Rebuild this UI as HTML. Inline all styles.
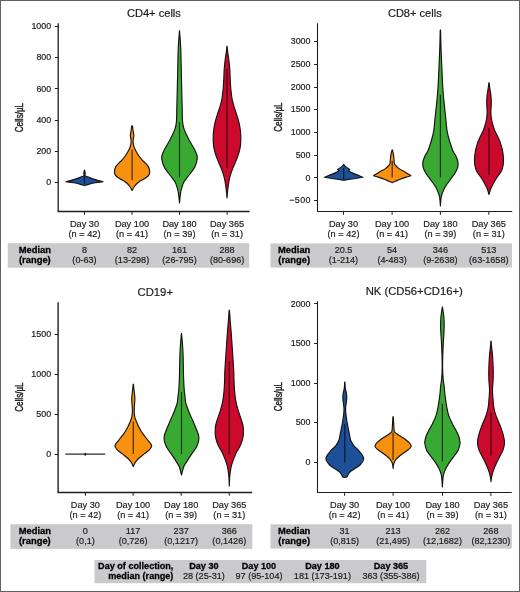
<!DOCTYPE html>
<html><head><meta charset="utf-8"><style>
html,body{margin:0;padding:0;background:#fff;}
body{width:520px;height:592px;overflow:hidden;}
svg{display:block;will-change:transform;}
text{font-family:"Liberation Sans", sans-serif;fill:#1c1a1a;stroke:#1c1a1a;stroke-width:0.18px;}
</style></head><body>
<svg width="520" height="592" viewBox="0 0 520 592">
<rect x="0" y="0" width="520" height="592" fill="#fff"/>
<path d="M58.2,23.2 V211.5 H249.6" fill="none" stroke="#1e1e1e" stroke-width="1.3"/>
<line x1="54.800000000000004" y1="182.5" x2="58.2" y2="182.5" stroke="#1e1e1e" stroke-width="1"/>
<text x="51.2" y="185.35" font-size="8.9" text-anchor="end" font-weight="normal" >0</text>
<line x1="54.800000000000004" y1="151.5" x2="58.2" y2="151.5" stroke="#1e1e1e" stroke-width="1"/>
<text x="51.2" y="154.13" font-size="8.9" text-anchor="end" font-weight="normal" >200</text>
<line x1="54.800000000000004" y1="120.5" x2="58.2" y2="120.5" stroke="#1e1e1e" stroke-width="1"/>
<text x="51.2" y="122.91" font-size="8.9" text-anchor="end" font-weight="normal" >400</text>
<line x1="54.800000000000004" y1="88.5" x2="58.2" y2="88.5" stroke="#1e1e1e" stroke-width="1"/>
<text x="51.2" y="91.69" font-size="8.9" text-anchor="end" font-weight="normal" >600</text>
<line x1="54.800000000000004" y1="57.5" x2="58.2" y2="57.5" stroke="#1e1e1e" stroke-width="1"/>
<text x="51.2" y="60.47" font-size="8.9" text-anchor="end" font-weight="normal" >800</text>
<line x1="54.800000000000004" y1="26.5" x2="58.2" y2="26.5" stroke="#1e1e1e" stroke-width="1"/>
<text x="51.2" y="29.25" font-size="8.9" text-anchor="end" font-weight="normal" >1000</text>
<line x1="84.5" y1="211.5" x2="84.5" y2="214.8" stroke="#1e1e1e" stroke-width="1"/>
<line x1="132.0" y1="211.5" x2="132.0" y2="214.8" stroke="#1e1e1e" stroke-width="1"/>
<line x1="179.5" y1="211.5" x2="179.5" y2="214.8" stroke="#1e1e1e" stroke-width="1"/>
<line x1="227.1" y1="211.5" x2="227.1" y2="214.8" stroke="#1e1e1e" stroke-width="1"/>
<text x="153.9" y="17.0" font-size="10.7" text-anchor="middle" font-weight="normal" textLength="54.0" lengthAdjust="spacingAndGlyphs">CD4+ cells</text>
<text transform="translate(22.6,117.6) rotate(-90) scale(0.80,1)" font-size="10.2" text-anchor="middle" style="stroke-width:0.4px" textLength="36.6" lengthAdjust="spacingAndGlyphs">Cells/µL</text>
<path d="M84.50,170.00 C84.55,170.22 84.66,170.77 84.78,171.30 C84.90,171.83 85.22,172.58 85.23,173.20 C85.25,173.82 84.86,174.55 84.88,175.00 C84.91,175.45 84.65,175.48 85.38,175.90 C86.12,176.32 87.63,176.88 89.28,177.50 C90.93,178.12 92.98,178.90 95.28,179.60 C97.58,180.30 101.78,181.35 103.08,181.70 C101.78,181.88 97.58,182.40 95.28,182.80 C92.98,183.20 91.08,183.63 89.28,184.10 C87.49,184.57 85.30,185.35 84.50,185.60 C83.70,185.35 81.51,184.57 79.72,184.10 C77.92,183.63 76.02,183.20 73.72,182.80 C71.42,182.40 67.22,181.88 65.92,181.70 C67.22,181.35 71.42,180.30 73.72,179.60 C76.02,178.90 78.07,178.12 79.72,177.50 C81.37,176.88 82.88,176.32 83.62,175.90 C84.35,175.48 84.09,175.45 84.12,175.00 C84.14,174.55 83.75,173.82 83.77,173.20 C83.78,172.58 84.10,171.83 84.22,171.30 C84.34,170.77 84.45,170.22 84.50,170.00Z" fill="#1c519a" stroke="#161210" stroke-width="1.15" stroke-linejoin="round"/><line x1="84.5" y1="177" x2="84.5" y2="184" stroke="#000" stroke-opacity="0.72" stroke-width="1.2"/>
<path d="M132.10,126.00 C132.16,126.05 132.32,125.55 132.48,126.30 C132.65,127.05 132.86,129.00 133.08,130.50 C133.31,132.00 133.78,133.95 133.83,135.30 C133.88,136.65 133.51,137.50 133.38,138.60 C133.26,139.70 133.03,140.72 133.08,141.90 C133.13,143.08 133.38,144.52 133.68,145.70 C133.98,146.88 134.42,147.95 134.88,149.00 C135.35,150.05 135.87,150.92 136.48,152.00 C137.10,153.08 137.62,154.15 138.58,155.50 C139.55,156.85 140.98,158.65 142.28,160.10 C143.58,161.55 145.28,162.93 146.38,164.20 C147.48,165.47 148.33,166.52 148.88,167.70 C149.43,168.88 149.57,170.42 149.68,171.30 C149.80,172.18 149.78,172.27 149.58,173.00 C149.38,173.73 149.05,174.95 148.48,175.70 C147.92,176.45 147.18,176.82 146.18,177.50 C145.18,178.18 143.65,179.10 142.48,179.80 C141.32,180.50 140.18,181.00 139.18,181.70 C138.18,182.40 137.32,183.15 136.48,184.00 C135.65,184.85 134.91,185.72 134.18,186.80 C133.45,187.88 132.45,189.88 132.10,190.50 C131.75,189.88 130.75,187.88 130.02,186.80 C129.29,185.72 128.55,184.85 127.72,184.00 C126.88,183.15 126.02,182.40 125.02,181.70 C124.02,181.00 122.88,180.50 121.72,179.80 C120.55,179.10 119.02,178.18 118.02,177.50 C117.02,176.82 116.28,176.45 115.72,175.70 C115.15,174.95 114.82,173.73 114.62,173.00 C114.42,172.27 114.40,172.18 114.52,171.30 C114.63,170.42 114.77,168.88 115.32,167.70 C115.87,166.52 116.72,165.47 117.82,164.20 C118.92,162.93 120.62,161.55 121.92,160.10 C123.22,158.65 124.65,156.85 125.62,155.50 C126.58,154.15 127.10,153.08 127.72,152.00 C128.33,150.92 128.85,150.05 129.32,149.00 C129.78,147.95 130.22,146.88 130.52,145.70 C130.82,144.52 131.07,143.08 131.12,141.90 C131.17,140.72 130.94,139.70 130.82,138.60 C130.69,137.50 130.32,136.65 130.37,135.30 C130.42,133.95 130.89,132.00 131.12,130.50 C131.34,129.00 131.55,127.05 131.72,126.30 C131.88,125.55 132.04,126.05 132.10,126.00Z" fill="#f8910f" stroke="#161210" stroke-width="1.15" stroke-linejoin="round"/><line x1="132.1" y1="149.4" x2="132.1" y2="180.3" stroke="#000" stroke-opacity="0.72" stroke-width="1.2"/>
<path d="M179.50,30.70 C179.53,31.08 179.49,29.90 179.70,33.00 C179.91,36.10 180.52,43.05 180.78,49.30 C181.05,55.55 181.12,63.42 181.28,70.50 C181.45,77.58 181.62,84.88 181.78,91.80 C181.95,98.72 182.18,107.50 182.28,112.00 C182.38,116.50 182.28,116.77 182.38,118.80 C182.48,120.83 182.62,122.52 182.88,124.20 C183.15,125.88 183.42,127.22 183.98,128.90 C184.55,130.58 185.38,132.38 186.28,134.30 C187.18,136.22 188.35,138.48 189.38,140.40 C190.42,142.32 191.48,144.00 192.48,145.80 C193.48,147.60 194.65,149.67 195.38,151.20 C196.12,152.73 196.57,153.90 196.88,155.00 C197.20,156.10 197.35,156.52 197.28,157.80 C197.22,159.08 196.95,161.07 196.48,162.70 C196.02,164.33 195.38,165.97 194.48,167.60 C193.58,169.23 192.30,170.87 191.08,172.50 C189.87,174.13 188.40,175.77 187.18,177.40 C185.97,179.03 184.65,180.67 183.78,182.30 C182.92,183.93 182.50,185.57 181.98,187.20 C181.47,188.83 181.10,189.48 180.68,192.10 C180.27,194.72 179.70,201.10 179.50,202.90 C179.30,201.10 178.73,194.72 178.32,192.10 C177.90,189.48 177.53,188.83 177.02,187.20 C176.50,185.57 176.08,183.93 175.22,182.30 C174.35,180.67 173.03,179.03 171.82,177.40 C170.60,175.77 169.13,174.13 167.92,172.50 C166.70,170.87 165.42,169.23 164.52,167.60 C163.62,165.97 162.98,164.33 162.52,162.70 C162.05,161.07 161.78,159.08 161.72,157.80 C161.65,156.52 161.80,156.10 162.12,155.00 C162.43,153.90 162.88,152.73 163.62,151.20 C164.35,149.67 165.52,147.60 166.52,145.80 C167.52,144.00 168.58,142.32 169.62,140.40 C170.65,138.48 171.82,136.22 172.72,134.30 C173.62,132.38 174.45,130.58 175.02,128.90 C175.58,127.22 175.85,125.88 176.12,124.20 C176.38,122.52 176.52,120.83 176.62,118.80 C176.72,116.77 176.62,116.50 176.72,112.00 C176.82,107.50 177.05,98.72 177.22,91.80 C177.38,84.88 177.55,77.58 177.72,70.50 C177.88,63.42 177.95,55.55 178.22,49.30 C178.48,43.05 179.09,36.10 179.30,33.00 C179.51,29.90 179.47,31.08 179.50,30.70Z" fill="#38aa32" stroke="#161210" stroke-width="1.15" stroke-linejoin="round"/><line x1="179.5" y1="122.1" x2="179.5" y2="177.4" stroke="#000" stroke-opacity="0.72" stroke-width="1.2"/>
<path d="M227.00,46.10 C227.03,46.25 227.10,46.17 227.20,47.00 C227.30,47.83 227.30,48.90 227.58,51.10 C227.86,53.30 228.52,57.15 228.88,60.20 C229.25,63.25 229.57,66.35 229.78,69.40 C230.00,72.45 230.03,75.47 230.18,78.50 C230.33,81.53 230.52,85.35 230.68,87.60 C230.85,89.85 230.97,90.20 231.18,92.00 C231.40,93.80 231.70,96.65 231.98,98.40 C232.27,100.15 232.53,101.08 232.88,102.50 C233.23,103.92 233.42,104.77 234.08,106.90 C234.75,109.03 236.02,112.48 236.88,115.30 C237.75,118.12 238.67,120.98 239.28,123.80 C239.90,126.62 240.33,130.08 240.58,132.20 C240.83,134.32 240.75,135.03 240.78,136.50 C240.82,137.97 240.87,139.28 240.78,141.00 C240.70,142.72 240.57,144.97 240.28,146.80 C240.00,148.63 239.58,150.20 239.08,152.00 C238.58,153.80 237.95,155.77 237.28,157.60 C236.62,159.43 235.83,161.20 235.08,163.00 C234.33,164.80 233.50,166.60 232.78,168.40 C232.07,170.20 231.35,172.00 230.78,173.80 C230.22,175.60 229.75,177.50 229.38,179.20 C229.02,180.90 228.83,182.37 228.58,184.00 C228.33,185.63 228.08,187.50 227.88,189.00 C227.68,190.50 227.53,191.50 227.38,193.00 C227.24,194.50 227.06,197.17 227.00,198.00 C226.94,197.17 226.76,194.50 226.62,193.00 C226.47,191.50 226.32,190.50 226.12,189.00 C225.92,187.50 225.67,185.63 225.42,184.00 C225.17,182.37 224.98,180.90 224.62,179.20 C224.25,177.50 223.78,175.60 223.22,173.80 C222.65,172.00 221.93,170.20 221.22,168.40 C220.50,166.60 219.67,164.80 218.92,163.00 C218.17,161.20 217.38,159.43 216.72,157.60 C216.05,155.77 215.42,153.80 214.92,152.00 C214.42,150.20 214.00,148.63 213.72,146.80 C213.43,144.97 213.30,142.72 213.22,141.00 C213.13,139.28 213.18,137.97 213.22,136.50 C213.25,135.03 213.17,134.32 213.42,132.20 C213.67,130.08 214.10,126.62 214.72,123.80 C215.33,120.98 216.25,118.12 217.12,115.30 C217.98,112.48 219.25,109.03 219.92,106.90 C220.58,104.77 220.77,103.92 221.12,102.50 C221.47,101.08 221.73,100.15 222.02,98.40 C222.30,96.65 222.60,93.80 222.82,92.00 C223.03,90.20 223.15,89.85 223.32,87.60 C223.48,85.35 223.67,81.53 223.82,78.50 C223.97,75.47 224.00,72.45 224.22,69.40 C224.43,66.35 224.75,63.25 225.12,60.20 C225.48,57.15 226.14,53.30 226.42,51.10 C226.70,48.90 226.70,47.83 226.80,47.00 C226.90,46.17 226.97,46.25 227.00,46.10Z" fill="#cc0a2e" stroke="#161210" stroke-width="1.15" stroke-linejoin="round"/><line x1="227.0" y1="69" x2="227.0" y2="167.7" stroke="#000" stroke-opacity="0.72" stroke-width="1.2"/>
<text x="84.5" y="226.85" font-size="9.2" text-anchor="middle" font-weight="normal" >Day 30</text>
<text x="84.5" y="237.45" font-size="9.2" text-anchor="middle" font-weight="normal" >(n = 42)</text>
<text x="132.0" y="226.85" font-size="9.2" text-anchor="middle" font-weight="normal" >Day 100</text>
<text x="132.0" y="237.45" font-size="9.2" text-anchor="middle" font-weight="normal" >(n = 41)</text>
<text x="179.5" y="226.85" font-size="9.2" text-anchor="middle" font-weight="normal" >Day 180</text>
<text x="179.5" y="237.45" font-size="9.2" text-anchor="middle" font-weight="normal" >(n = 39)</text>
<text x="227.1" y="226.85" font-size="9.2" text-anchor="middle" font-weight="normal" >Day 365</text>
<text x="227.1" y="237.45" font-size="9.2" text-anchor="middle" font-weight="normal" >(n = 31)</text>
<rect x="7.8" y="243.2" width="241.39999999999998" height="24.5" fill="#cac9cb"/>
<text x="34.85" y="253.1" font-size="9.4" text-anchor="middle" font-weight="bold" style="fill:#000;stroke:#000;stroke-width:0.28px" >Median</text>
<text x="34.85" y="262.8" font-size="9.4" text-anchor="middle" font-weight="bold" style="fill:#000;stroke:#000;stroke-width:0.28px" >(range)</text>
<text x="84.5" y="253.1" font-size="9.1" text-anchor="middle" font-weight="normal" >8</text>
<text x="84.5" y="262.8" font-size="9.1" text-anchor="middle" font-weight="normal" >(0-63)</text>
<text x="132.0" y="253.1" font-size="9.1" text-anchor="middle" font-weight="normal" >82</text>
<text x="132.0" y="262.8" font-size="9.1" text-anchor="middle" font-weight="normal" >(13-298)</text>
<text x="179.5" y="253.1" font-size="9.1" text-anchor="middle" font-weight="normal" >161</text>
<text x="179.5" y="262.8" font-size="9.1" text-anchor="middle" font-weight="normal" >(26-795)</text>
<text x="227.1" y="253.1" font-size="9.1" text-anchor="middle" font-weight="normal" >288</text>
<text x="227.1" y="262.8" font-size="9.1" text-anchor="middle" font-weight="normal" >(80-696)</text>
<path d="M317.5,23.2 V211.5 H512.2" fill="none" stroke="#1e1e1e" stroke-width="1.1"/>
<line x1="314.1" y1="200.5" x2="317.5" y2="200.5" stroke="#1e1e1e" stroke-width="1"/>
<text x="310.5" y="203.25" font-size="8.9" text-anchor="end" font-weight="normal" textLength="21.3" lengthAdjust="spacing">−500</text>
<line x1="314.1" y1="177.5" x2="317.5" y2="177.5" stroke="#1e1e1e" stroke-width="1"/>
<text x="310.5" y="180.55" font-size="8.9" text-anchor="end" font-weight="normal" >0</text>
<line x1="314.1" y1="155.5" x2="317.5" y2="155.5" stroke="#1e1e1e" stroke-width="1"/>
<text x="310.5" y="157.85" font-size="8.9" text-anchor="end" font-weight="normal" >500</text>
<line x1="314.1" y1="132.5" x2="317.5" y2="132.5" stroke="#1e1e1e" stroke-width="1"/>
<text x="310.5" y="135.15" font-size="8.9" text-anchor="end" font-weight="normal" >1000</text>
<line x1="314.1" y1="109.5" x2="317.5" y2="109.5" stroke="#1e1e1e" stroke-width="1"/>
<text x="310.5" y="112.45" font-size="8.9" text-anchor="end" font-weight="normal" >1500</text>
<line x1="314.1" y1="87.5" x2="317.5" y2="87.5" stroke="#1e1e1e" stroke-width="1"/>
<text x="310.5" y="89.75" font-size="8.9" text-anchor="end" font-weight="normal" >2000</text>
<line x1="314.1" y1="64.5" x2="317.5" y2="64.5" stroke="#1e1e1e" stroke-width="1"/>
<text x="310.5" y="67.05" font-size="8.9" text-anchor="end" font-weight="normal" >2500</text>
<line x1="314.1" y1="41.5" x2="317.5" y2="41.5" stroke="#1e1e1e" stroke-width="1"/>
<text x="310.5" y="44.35" font-size="8.9" text-anchor="end" font-weight="normal" >3000</text>
<line x1="343.5" y1="211.5" x2="343.5" y2="214.8" stroke="#1e1e1e" stroke-width="1"/>
<line x1="392.1" y1="211.5" x2="392.1" y2="214.8" stroke="#1e1e1e" stroke-width="1"/>
<line x1="440.4" y1="211.5" x2="440.4" y2="214.8" stroke="#1e1e1e" stroke-width="1"/>
<line x1="488.8" y1="211.5" x2="488.8" y2="214.8" stroke="#1e1e1e" stroke-width="1"/>
<text x="414.8" y="17.0" font-size="10.7" text-anchor="middle" font-weight="normal" textLength="53.8" lengthAdjust="spacingAndGlyphs">CD8+ cells</text>
<text transform="translate(281.8,117.1) rotate(-90) scale(0.80,1)" font-size="10.2" text-anchor="middle" style="stroke-width:0.4px" textLength="36.6" lengthAdjust="spacingAndGlyphs">Cells/µL</text>
<path d="M343.70,164.40 C344.06,164.82 344.87,166.05 345.88,166.90 C346.90,167.75 349.13,169.07 349.78,169.50 C349.55,169.77 348.62,170.83 348.38,171.10 C349.20,171.48 351.63,172.72 353.28,173.40 C354.93,174.08 356.67,174.55 358.28,175.20 C359.90,175.85 362.20,176.95 362.98,177.30 C361.75,177.50 357.98,178.15 355.58,178.50 C353.18,178.85 350.56,179.10 348.58,179.40 C346.60,179.70 344.51,180.15 343.70,180.30 C342.89,180.15 340.80,179.70 338.82,179.40 C336.84,179.10 334.22,178.85 331.82,178.50 C329.42,178.15 325.65,177.50 324.42,177.30 C325.20,176.95 327.50,175.85 329.12,175.20 C330.73,174.55 332.47,174.08 334.12,173.40 C335.77,172.72 338.20,171.48 339.02,171.10 C338.78,170.83 337.85,169.77 337.62,169.50 C338.27,169.07 340.50,167.75 341.52,166.90 C342.53,166.05 343.34,164.82 343.70,164.40Z" fill="#1c519a" stroke="#161210" stroke-width="1.15" stroke-linejoin="round"/><line x1="343.7" y1="168" x2="343.7" y2="179" stroke="#000" stroke-opacity="0.72" stroke-width="1.2"/>
<path d="M392.20,149.80 C392.25,149.92 392.30,149.85 392.48,150.50 C392.66,151.15 393.03,152.32 393.28,153.70 C393.53,155.08 393.80,157.20 393.98,158.80 C394.17,160.40 394.15,162.23 394.38,163.30 C394.62,164.37 394.67,164.35 395.38,165.20 C396.10,166.05 397.22,167.33 398.68,168.40 C400.15,169.47 402.52,170.63 404.18,171.60 C405.85,172.57 407.57,173.52 408.68,174.20 C409.80,174.88 410.52,175.45 410.88,175.70 C409.98,175.98 407.28,176.80 405.48,177.40 C403.68,178.00 401.77,178.65 400.08,179.30 C398.40,179.95 396.70,180.75 395.38,181.30 C394.07,181.85 392.73,182.38 392.20,182.60 C391.67,182.38 390.33,181.85 389.02,181.30 C387.70,180.75 386.00,179.95 384.32,179.30 C382.63,178.65 380.72,178.00 378.92,177.40 C377.12,176.80 374.42,175.98 373.52,175.70 C373.88,175.45 374.60,174.88 375.72,174.20 C376.83,173.52 378.55,172.57 380.22,171.60 C381.88,170.63 384.25,169.47 385.72,168.40 C387.18,167.33 388.30,166.05 389.02,165.20 C389.73,164.35 389.78,164.37 390.02,163.30 C390.25,162.23 390.23,160.40 390.42,158.80 C390.60,157.20 390.87,155.08 391.12,153.70 C391.37,152.32 391.74,151.15 391.92,150.50 C392.10,149.85 392.15,149.92 392.20,149.80Z" fill="#f8910f" stroke="#161210" stroke-width="1.15" stroke-linejoin="round"/><line x1="392.2" y1="160.7" x2="392.2" y2="177.4" stroke="#000" stroke-opacity="0.72" stroke-width="1.2"/>
<path d="M440.40,30.50 C440.43,30.67 440.50,28.70 440.60,31.50 C440.70,34.30 440.79,41.47 440.98,47.30 C441.18,53.13 441.50,60.08 441.78,66.50 C442.07,72.92 442.37,80.45 442.68,85.80 C443.00,91.15 443.32,94.55 443.68,98.60 C444.05,102.65 444.50,106.48 444.88,110.10 C445.27,113.72 445.63,116.92 445.98,120.30 C446.33,123.68 446.42,127.03 446.98,130.40 C447.55,133.77 448.40,137.12 449.38,140.50 C450.37,143.88 451.80,148.13 452.88,150.70 C453.97,153.27 455.05,154.05 455.88,155.90 C456.72,157.75 457.55,160.00 457.88,161.80 C458.22,163.60 458.30,164.92 457.88,166.70 C457.47,168.48 456.62,170.38 455.38,172.50 C454.15,174.62 452.12,177.10 450.48,179.40 C448.85,181.70 446.88,184.17 445.58,186.30 C444.28,188.43 443.42,190.40 442.68,192.20 C441.95,194.00 441.56,194.82 441.18,197.10 C440.80,199.38 440.53,204.43 440.40,205.90 C440.27,204.43 440.00,199.38 439.62,197.10 C439.24,194.82 438.85,194.00 438.12,192.20 C437.38,190.40 436.52,188.43 435.22,186.30 C433.92,184.17 431.95,181.70 430.32,179.40 C428.68,177.10 426.65,174.62 425.42,172.50 C424.18,170.38 423.33,168.48 422.92,166.70 C422.50,164.92 422.58,163.60 422.92,161.80 C423.25,160.00 424.08,157.75 424.92,155.90 C425.75,154.05 426.83,153.27 427.92,150.70 C429.00,148.13 430.43,143.88 431.42,140.50 C432.40,137.12 433.25,133.77 433.82,130.40 C434.38,127.03 434.47,123.68 434.82,120.30 C435.17,116.92 435.53,113.72 435.92,110.10 C436.30,106.48 436.75,102.65 437.12,98.60 C437.48,94.55 437.80,91.15 438.12,85.80 C438.43,80.45 438.73,72.92 439.02,66.50 C439.30,60.08 439.62,53.13 439.82,47.30 C440.01,41.47 440.10,34.30 440.20,31.50 C440.30,28.70 440.37,30.67 440.40,30.50Z" fill="#38aa32" stroke="#161210" stroke-width="1.15" stroke-linejoin="round"/><line x1="440.4" y1="94.8" x2="440.4" y2="177.5" stroke="#000" stroke-opacity="0.72" stroke-width="1.2"/>
<path d="M489.00,82.60 C489.03,82.75 489.07,82.58 489.20,83.50 C489.33,84.42 489.49,85.98 489.78,88.10 C490.08,90.22 490.73,93.67 490.98,96.20 C491.23,98.73 491.30,100.77 491.28,103.30 C491.27,105.83 490.92,109.28 490.88,111.40 C490.85,113.52 490.97,114.65 491.08,116.00 C491.20,117.35 491.35,118.23 491.58,119.50 C491.82,120.77 492.07,122.07 492.48,123.60 C492.90,125.13 493.53,127.17 494.08,128.70 C494.63,130.23 494.97,131.03 495.78,132.80 C496.60,134.57 498.07,137.15 498.98,139.30 C499.90,141.45 500.65,143.57 501.28,145.70 C501.92,147.83 502.42,149.97 502.78,152.10 C503.15,154.23 503.42,156.37 503.48,158.50 C503.55,160.63 503.55,162.77 503.18,164.90 C502.82,167.03 502.35,169.15 501.28,171.30 C500.22,173.45 498.17,175.65 496.78,177.80 C495.40,179.95 494.02,182.28 492.98,184.20 C491.95,186.12 491.25,187.58 490.58,189.30 C489.92,191.02 489.26,193.63 489.00,194.50 C488.74,193.63 488.08,191.02 487.42,189.30 C486.75,187.58 486.05,186.12 485.02,184.20 C483.98,182.28 482.60,179.95 481.22,177.80 C479.83,175.65 477.78,173.45 476.72,171.30 C475.65,169.15 475.18,167.03 474.82,164.90 C474.45,162.77 474.45,160.63 474.52,158.50 C474.58,156.37 474.85,154.23 475.22,152.10 C475.58,149.97 476.08,147.83 476.72,145.70 C477.35,143.57 478.10,141.45 479.02,139.30 C479.93,137.15 481.40,134.57 482.22,132.80 C483.03,131.03 483.37,130.23 483.92,128.70 C484.47,127.17 485.10,125.13 485.52,123.60 C485.93,122.07 486.18,120.77 486.42,119.50 C486.65,118.23 486.80,117.35 486.92,116.00 C487.03,114.65 487.15,113.52 487.12,111.40 C487.08,109.28 486.73,105.83 486.72,103.30 C486.70,100.77 486.77,98.73 487.02,96.20 C487.27,93.67 487.92,90.22 488.22,88.10 C488.51,85.98 488.67,84.42 488.80,83.50 C488.93,82.58 488.97,82.75 489.00,82.60Z" fill="#cc0a2e" stroke="#161210" stroke-width="1.15" stroke-linejoin="round"/><line x1="489.0" y1="127.7" x2="489.0" y2="175.2" stroke="#000" stroke-opacity="0.72" stroke-width="1.2"/>
<text x="343.5" y="226.85" font-size="9.2" text-anchor="middle" font-weight="normal" >Day 30</text>
<text x="343.5" y="237.45" font-size="9.2" text-anchor="middle" font-weight="normal" >(n = 42)</text>
<text x="392.1" y="226.85" font-size="9.2" text-anchor="middle" font-weight="normal" >Day 100</text>
<text x="392.1" y="237.45" font-size="9.2" text-anchor="middle" font-weight="normal" >(n = 41)</text>
<text x="440.4" y="226.85" font-size="9.2" text-anchor="middle" font-weight="normal" >Day 180</text>
<text x="440.4" y="237.45" font-size="9.2" text-anchor="middle" font-weight="normal" >(n = 39)</text>
<text x="488.8" y="226.85" font-size="9.2" text-anchor="middle" font-weight="normal" >Day 365</text>
<text x="488.8" y="237.45" font-size="9.2" text-anchor="middle" font-weight="normal" >(n = 31)</text>
<rect x="270.5" y="243.4" width="241.5" height="24.200000000000017" fill="#cac9cb"/>
<text x="294.2" y="253.1" font-size="9.4" text-anchor="middle" font-weight="bold" style="fill:#000;stroke:#000;stroke-width:0.28px" >Median</text>
<text x="294.2" y="262.8" font-size="9.4" text-anchor="middle" font-weight="bold" style="fill:#000;stroke:#000;stroke-width:0.28px" >(range)</text>
<text x="343.5" y="253.1" font-size="9.1" text-anchor="middle" font-weight="normal" >20.5</text>
<text x="343.5" y="262.8" font-size="9.1" text-anchor="middle" font-weight="normal" >(1-214)</text>
<text x="392.1" y="253.1" font-size="9.1" text-anchor="middle" font-weight="normal" >54</text>
<text x="392.1" y="262.8" font-size="9.1" text-anchor="middle" font-weight="normal" >(4-483)</text>
<text x="440.4" y="253.1" font-size="9.1" text-anchor="middle" font-weight="normal" >346</text>
<text x="440.4" y="262.8" font-size="9.1" text-anchor="middle" font-weight="normal" >(9-2638)</text>
<text x="488.8" y="253.1" font-size="9.1" text-anchor="middle" font-weight="normal" >513</text>
<text x="488.8" y="262.8" font-size="9.1" text-anchor="middle" font-weight="normal" >(63-1658)</text>
<path d="M58.1,302.3 V492.5 H252.2" fill="none" stroke="#1e1e1e" stroke-width="1.4"/>
<line x1="54.7" y1="454.5" x2="58.1" y2="454.5" stroke="#1e1e1e" stroke-width="1"/>
<text x="51.1" y="456.85" font-size="8.9" text-anchor="end" font-weight="normal" >0</text>
<line x1="54.7" y1="414.5" x2="58.1" y2="414.5" stroke="#1e1e1e" stroke-width="1"/>
<text x="51.1" y="416.88" font-size="8.9" text-anchor="end" font-weight="normal" >500</text>
<line x1="54.7" y1="374.5" x2="58.1" y2="374.5" stroke="#1e1e1e" stroke-width="1"/>
<text x="51.1" y="376.91" font-size="8.9" text-anchor="end" font-weight="normal" >1000</text>
<line x1="54.7" y1="334.5" x2="58.1" y2="334.5" stroke="#1e1e1e" stroke-width="1"/>
<text x="51.1" y="336.94" font-size="8.9" text-anchor="end" font-weight="normal" >1500</text>
<line x1="85.4" y1="492.5" x2="85.4" y2="495.8" stroke="#1e1e1e" stroke-width="1"/>
<line x1="133.1" y1="492.5" x2="133.1" y2="495.8" stroke="#1e1e1e" stroke-width="1"/>
<line x1="181.2" y1="492.5" x2="181.2" y2="495.8" stroke="#1e1e1e" stroke-width="1"/>
<line x1="229.3" y1="492.5" x2="229.3" y2="495.8" stroke="#1e1e1e" stroke-width="1"/>
<text x="155.25" y="295.8" font-size="10.7" text-anchor="middle" font-weight="normal" textLength="35.5" lengthAdjust="spacingAndGlyphs">CD19+</text>
<text transform="translate(22.6,397.1) rotate(-90) scale(0.80,1)" font-size="10.2" text-anchor="middle" style="stroke-width:0.4px" textLength="36.6" lengthAdjust="spacingAndGlyphs">Cells/µL</text>
<line x1="65.3" y1="454.2" x2="105.2" y2="454.2" stroke="#2a2a2a" stroke-width="1.2"/><ellipse cx="85.3" cy="454.2" rx="0.9" ry="1.5" fill="#111"/>
<path d="M133.30,384.10 C133.33,384.22 133.40,384.00 133.50,384.80 C133.60,385.60 133.70,387.22 133.88,388.90 C134.06,390.58 134.42,393.17 134.58,394.90 C134.75,396.63 134.90,397.57 134.88,399.30 C134.87,401.03 134.60,403.32 134.48,405.30 C134.37,407.28 134.17,409.47 134.18,411.20 C134.20,412.93 134.42,414.48 134.58,415.70 C134.75,416.92 134.82,417.38 135.18,418.50 C135.55,419.62 136.20,421.02 136.78,422.40 C137.37,423.78 137.95,425.33 138.68,426.80 C139.42,428.27 140.43,429.97 141.18,431.20 C141.93,432.43 142.42,433.15 143.18,434.20 C143.95,435.25 144.98,436.48 145.78,437.50 C146.58,438.52 147.25,439.38 147.98,440.30 C148.72,441.22 149.57,442.12 150.18,443.00 C150.80,443.88 151.55,444.85 151.68,445.60 C151.82,446.35 151.42,446.75 150.98,447.50 C150.55,448.25 149.90,449.27 149.08,450.10 C148.27,450.93 147.18,451.65 146.08,452.50 C144.98,453.35 143.63,454.28 142.48,455.20 C141.33,456.12 140.12,457.15 139.18,458.00 C138.25,458.85 137.58,459.47 136.88,460.30 C136.18,461.13 135.58,461.97 134.98,463.00 C134.39,464.03 133.58,465.92 133.30,466.50 C133.02,465.92 132.21,464.03 131.62,463.00 C131.02,461.97 130.42,461.13 129.72,460.30 C129.02,459.47 128.35,458.85 127.42,458.00 C126.48,457.15 125.27,456.12 124.12,455.20 C122.97,454.28 121.62,453.35 120.52,452.50 C119.42,451.65 118.33,450.93 117.52,450.10 C116.70,449.27 116.05,448.25 115.62,447.50 C115.18,446.75 114.78,446.35 114.92,445.60 C115.05,444.85 115.80,443.88 116.42,443.00 C117.03,442.12 117.88,441.22 118.62,440.30 C119.35,439.38 120.02,438.52 120.82,437.50 C121.62,436.48 122.65,435.25 123.42,434.20 C124.18,433.15 124.67,432.43 125.42,431.20 C126.17,429.97 127.18,428.27 127.92,426.80 C128.65,425.33 129.23,423.78 129.82,422.40 C130.40,421.02 131.05,419.62 131.42,418.50 C131.78,417.38 131.85,416.92 132.02,415.70 C132.18,414.48 132.40,412.93 132.42,411.20 C132.43,409.47 132.23,407.28 132.12,405.30 C132.00,403.32 131.73,401.03 131.72,399.30 C131.70,397.57 131.85,396.63 132.02,394.90 C132.18,393.17 132.54,390.58 132.72,388.90 C132.90,387.22 133.00,385.60 133.10,384.80 C133.20,384.00 133.27,384.22 133.30,384.10Z" fill="#f8910f" stroke="#161210" stroke-width="1.15" stroke-linejoin="round"/><line x1="133.3" y1="421.5" x2="133.3" y2="454" stroke="#000" stroke-opacity="0.72" stroke-width="1.2"/>
<path d="M181.50,334.00 C181.53,334.17 181.47,332.28 181.70,335.00 C181.93,337.72 182.62,345.50 182.88,350.30 C183.15,355.10 183.17,359.30 183.28,363.80 C183.40,368.30 183.43,373.02 183.58,377.30 C183.73,381.58 183.95,386.38 184.18,389.50 C184.42,392.62 184.72,393.77 184.98,396.00 C185.25,398.23 185.17,400.35 185.78,402.90 C186.40,405.45 187.58,408.48 188.68,411.30 C189.78,414.12 191.17,416.98 192.38,419.80 C193.60,422.62 195.20,426.33 195.98,428.20 C196.77,430.07 196.68,429.95 197.08,431.00 C197.48,432.05 198.08,433.32 198.38,434.50 C198.68,435.68 198.88,436.82 198.88,438.10 C198.88,439.38 198.73,440.85 198.38,442.20 C198.03,443.55 197.45,444.85 196.78,446.20 C196.12,447.55 195.27,448.95 194.38,450.30 C193.50,451.65 192.43,452.95 191.48,454.30 C190.53,455.65 189.55,457.05 188.68,458.40 C187.82,459.75 187.10,461.05 186.28,462.40 C185.47,463.75 184.58,464.40 183.78,466.50 C182.99,468.60 181.88,473.58 181.50,475.00 C181.12,473.58 180.01,468.60 179.22,466.50 C178.42,464.40 177.53,463.75 176.72,462.40 C175.90,461.05 175.18,459.75 174.32,458.40 C173.45,457.05 172.47,455.65 171.52,454.30 C170.57,452.95 169.50,451.65 168.62,450.30 C167.73,448.95 166.88,447.55 166.22,446.20 C165.55,444.85 164.97,443.55 164.62,442.20 C164.27,440.85 164.12,439.38 164.12,438.10 C164.12,436.82 164.32,435.68 164.62,434.50 C164.92,433.32 165.52,432.05 165.92,431.00 C166.32,429.95 166.23,430.07 167.02,428.20 C167.80,426.33 169.40,422.62 170.62,419.80 C171.83,416.98 173.22,414.12 174.32,411.30 C175.42,408.48 176.60,405.45 177.22,402.90 C177.83,400.35 177.75,398.23 178.02,396.00 C178.28,393.77 178.58,392.62 178.82,389.50 C179.05,386.38 179.27,381.58 179.42,377.30 C179.57,373.02 179.60,368.30 179.72,363.80 C179.83,359.30 179.85,355.10 180.12,350.30 C180.38,345.50 181.07,337.72 181.30,335.00 C181.53,332.28 181.47,334.17 181.50,334.00Z" fill="#38aa32" stroke="#161210" stroke-width="1.15" stroke-linejoin="round"/><line x1="181.5" y1="391.9" x2="181.5" y2="453.9" stroke="#000" stroke-opacity="0.72" stroke-width="1.2"/>
<path d="M229.30,310.00 C229.33,310.17 229.37,309.47 229.50,311.00 C229.63,312.53 229.80,315.63 230.08,319.20 C230.36,322.77 230.85,328.02 231.18,332.40 C231.52,336.78 231.78,341.12 232.08,345.50 C232.38,349.88 232.70,354.30 232.98,358.70 C233.27,363.10 233.62,368.35 233.78,371.90 C233.95,375.45 233.87,376.97 233.98,380.00 C234.10,383.03 234.20,386.72 234.48,390.10 C234.77,393.48 235.07,396.92 235.68,400.30 C236.30,403.68 237.20,407.03 238.18,410.40 C239.17,413.77 240.78,417.98 241.58,420.50 C242.38,423.02 242.68,423.80 242.98,425.50 C243.28,427.20 243.35,428.97 243.38,430.70 C243.42,432.43 243.45,434.05 243.18,435.90 C242.92,437.75 242.43,439.85 241.78,441.80 C241.13,443.75 240.05,446.07 239.28,447.60 C238.52,449.13 237.75,450.02 237.18,451.00 C236.62,451.98 236.50,452.10 235.88,453.50 C235.27,454.90 234.22,457.43 233.48,459.40 C232.75,461.37 232.00,463.33 231.48,465.30 C230.97,467.27 230.68,469.23 230.38,471.20 C230.08,473.17 229.86,474.63 229.68,477.10 C229.50,479.57 229.36,484.52 229.30,486.00 C229.24,484.52 229.10,479.57 228.92,477.10 C228.74,474.63 228.52,473.17 228.22,471.20 C227.92,469.23 227.63,467.27 227.12,465.30 C226.60,463.33 225.85,461.37 225.12,459.40 C224.38,457.43 223.33,454.90 222.72,453.50 C222.10,452.10 221.98,451.98 221.42,451.00 C220.85,450.02 220.08,449.13 219.32,447.60 C218.55,446.07 217.47,443.75 216.82,441.80 C216.17,439.85 215.68,437.75 215.42,435.90 C215.15,434.05 215.18,432.43 215.22,430.70 C215.25,428.97 215.32,427.20 215.62,425.50 C215.92,423.80 216.22,423.02 217.02,420.50 C217.82,417.98 219.43,413.77 220.42,410.40 C221.40,407.03 222.30,403.68 222.92,400.30 C223.53,396.92 223.83,393.48 224.12,390.10 C224.40,386.72 224.50,383.03 224.62,380.00 C224.73,376.97 224.65,375.45 224.82,371.90 C224.98,368.35 225.33,363.10 225.62,358.70 C225.90,354.30 226.22,349.88 226.52,345.50 C226.82,341.12 227.08,336.78 227.42,332.40 C227.75,328.02 228.24,322.77 228.52,319.20 C228.80,315.63 228.97,312.53 229.10,311.00 C229.23,309.47 229.27,310.17 229.30,310.00Z" fill="#cc0a2e" stroke="#161210" stroke-width="1.15" stroke-linejoin="round"/><line x1="229.3" y1="361.3" x2="229.3" y2="454" stroke="#000" stroke-opacity="0.72" stroke-width="1.2"/>
<text x="85.4" y="507.6" font-size="9.2" text-anchor="middle" font-weight="normal" >Day 30</text>
<text x="85.4" y="518.4" font-size="9.2" text-anchor="middle" font-weight="normal" >(n = 42)</text>
<text x="133.1" y="507.6" font-size="9.2" text-anchor="middle" font-weight="normal" >Day 100</text>
<text x="133.1" y="518.4" font-size="9.2" text-anchor="middle" font-weight="normal" >(n = 41)</text>
<text x="181.2" y="507.6" font-size="9.2" text-anchor="middle" font-weight="normal" >Day 180</text>
<text x="181.2" y="518.4" font-size="9.2" text-anchor="middle" font-weight="normal" >(n = 39)</text>
<text x="229.3" y="507.6" font-size="9.2" text-anchor="middle" font-weight="normal" >Day 365</text>
<text x="229.3" y="518.4" font-size="9.2" text-anchor="middle" font-weight="normal" >(n = 31)</text>
<rect x="10.5" y="524.2" width="241.8" height="24.699999999999932" fill="#cac9cb"/>
<text x="34.85" y="533.5" font-size="9.4" text-anchor="middle" font-weight="bold" style="fill:#000;stroke:#000;stroke-width:0.28px" >Median</text>
<text x="34.85" y="543.5" font-size="9.4" text-anchor="middle" font-weight="bold" style="fill:#000;stroke:#000;stroke-width:0.28px" >(range)</text>
<text x="85.4" y="533.5" font-size="9.1" text-anchor="middle" font-weight="normal" >0</text>
<text x="85.4" y="543.5" font-size="9.1" text-anchor="middle" font-weight="normal" >(0,1)</text>
<text x="133.1" y="533.5" font-size="9.1" text-anchor="middle" font-weight="normal" >117</text>
<text x="133.1" y="543.5" font-size="9.1" text-anchor="middle" font-weight="normal" >(0,726)</text>
<text x="181.2" y="533.5" font-size="9.1" text-anchor="middle" font-weight="normal" >237</text>
<text x="181.2" y="543.5" font-size="9.1" text-anchor="middle" font-weight="normal" >(0,1217)</text>
<text x="229.3" y="533.5" font-size="9.1" text-anchor="middle" font-weight="normal" >366</text>
<text x="229.3" y="543.5" font-size="9.1" text-anchor="middle" font-weight="normal" >(0,1426)</text>
<path d="M317.5,301.2 V492.5 H511.7" fill="none" stroke="#1e1e1e" stroke-width="1.1"/>
<line x1="314.1" y1="462.5" x2="317.5" y2="462.5" stroke="#1e1e1e" stroke-width="1"/>
<text x="310.5" y="464.85" font-size="8.9" text-anchor="end" font-weight="normal" >0</text>
<line x1="314.1" y1="422.5" x2="317.5" y2="422.5" stroke="#1e1e1e" stroke-width="1"/>
<text x="310.5" y="425.3" font-size="8.9" text-anchor="end" font-weight="normal" >500</text>
<line x1="314.1" y1="383.5" x2="317.5" y2="383.5" stroke="#1e1e1e" stroke-width="1"/>
<text x="310.5" y="385.75" font-size="8.9" text-anchor="end" font-weight="normal" >1000</text>
<line x1="314.1" y1="343.5" x2="317.5" y2="343.5" stroke="#1e1e1e" stroke-width="1"/>
<text x="310.5" y="346.2" font-size="8.9" text-anchor="end" font-weight="normal" >1500</text>
<line x1="314.1" y1="303.5" x2="317.5" y2="303.5" stroke="#1e1e1e" stroke-width="1"/>
<text x="310.5" y="306.65" font-size="8.9" text-anchor="end" font-weight="normal" >2000</text>
<line x1="344.6" y1="492.5" x2="344.6" y2="495.8" stroke="#1e1e1e" stroke-width="1"/>
<line x1="393.1" y1="492.5" x2="393.1" y2="495.8" stroke="#1e1e1e" stroke-width="1"/>
<line x1="442.5" y1="492.5" x2="442.5" y2="495.8" stroke="#1e1e1e" stroke-width="1"/>
<line x1="490.9" y1="492.5" x2="490.9" y2="495.8" stroke="#1e1e1e" stroke-width="1"/>
<text x="414.25" y="295.2" font-size="10.7" text-anchor="middle" font-weight="normal" textLength="97.2" lengthAdjust="spacingAndGlyphs">NK (CD56+CD16+)</text>
<text transform="translate(281.8,396.6) rotate(-90) scale(0.80,1)" font-size="10.2" text-anchor="middle" style="stroke-width:0.4px" textLength="36.6" lengthAdjust="spacingAndGlyphs">Cells/µL</text>
<path d="M344.80,382.00 C344.83,382.13 344.92,381.78 345.00,382.80 C345.08,383.82 345.00,386.03 345.28,388.10 C345.56,390.17 346.48,393.00 346.68,395.20 C346.88,397.40 346.67,399.10 346.48,401.30 C346.30,403.50 345.65,406.03 345.58,408.40 C345.52,410.77 345.90,413.57 346.08,415.50 C346.27,417.43 346.43,418.42 346.68,420.00 C346.93,421.58 347.27,423.32 347.58,425.00 C347.90,426.68 348.25,428.43 348.58,430.10 C348.92,431.77 349.23,433.30 349.58,435.00 C349.93,436.70 350.02,438.58 350.68,440.30 C351.35,442.02 352.27,443.62 353.58,445.30 C354.90,446.98 357.08,448.70 358.58,450.40 C360.08,452.10 361.75,453.98 362.58,455.50 C363.42,457.02 363.82,458.15 363.58,459.50 C363.35,460.85 362.03,462.47 361.18,463.60 C360.33,464.73 359.63,465.40 358.48,466.30 C357.33,467.20 355.60,468.13 354.28,469.00 C352.97,469.87 351.50,470.75 350.58,471.50 C349.67,472.25 349.27,472.83 348.78,473.50 C348.30,474.17 348.00,474.90 347.68,475.50 C347.37,476.10 347.02,476.83 346.88,477.10 C346.54,477.17 345.15,477.43 344.80,477.50 C344.45,477.43 343.06,477.17 342.72,477.10 C342.58,476.83 342.23,476.10 341.92,475.50 C341.60,474.90 341.30,474.17 340.82,473.50 C340.33,472.83 339.93,472.25 339.02,471.50 C338.10,470.75 336.63,469.87 335.32,469.00 C334.00,468.13 332.27,467.20 331.12,466.30 C329.97,465.40 329.27,464.73 328.42,463.60 C327.57,462.47 326.25,460.85 326.02,459.50 C325.78,458.15 326.18,457.02 327.02,455.50 C327.85,453.98 329.52,452.10 331.02,450.40 C332.52,448.70 334.70,446.98 336.02,445.30 C337.33,443.62 338.25,442.02 338.92,440.30 C339.58,438.58 339.67,436.70 340.02,435.00 C340.37,433.30 340.68,431.77 341.02,430.10 C341.35,428.43 341.70,426.68 342.02,425.00 C342.33,423.32 342.67,421.58 342.92,420.00 C343.17,418.42 343.33,417.43 343.52,415.50 C343.70,413.57 344.08,410.77 344.02,408.40 C343.95,406.03 343.30,403.50 343.12,401.30 C342.93,399.10 342.72,397.40 342.92,395.20 C343.12,393.00 344.04,390.17 344.32,388.10 C344.60,386.03 344.52,383.82 344.60,382.80 C344.68,381.78 344.77,382.13 344.80,382.00Z" fill="#1c519a" stroke="#161210" stroke-width="1.15" stroke-linejoin="round"/><line x1="344.8" y1="424" x2="344.8" y2="462.4" stroke="#000" stroke-opacity="0.72" stroke-width="1.2"/>
<path d="M393.10,416.50 C393.13,416.63 393.22,416.42 393.30,417.30 C393.38,418.18 393.47,419.90 393.58,421.80 C393.70,423.70 393.83,427.03 393.98,428.70 C394.13,430.37 393.97,430.92 394.48,431.80 C395.00,432.68 395.80,433.10 397.08,434.00 C398.37,434.90 400.68,436.20 402.18,437.20 C403.68,438.20 404.95,439.13 406.08,440.00 C407.22,440.87 408.23,441.65 408.98,442.40 C409.73,443.15 410.22,443.88 410.58,444.50 C410.95,445.12 411.25,445.52 411.18,446.10 C411.12,446.68 410.73,447.35 410.18,448.00 C409.63,448.65 408.73,449.33 407.88,450.00 C407.03,450.67 406.13,451.25 405.08,452.00 C404.03,452.75 402.73,453.63 401.58,454.50 C400.43,455.37 399.12,456.37 398.18,457.20 C397.25,458.03 396.60,458.75 395.98,459.50 C395.37,460.25 394.88,460.87 394.48,461.70 C394.08,462.53 393.81,463.37 393.58,464.50 C393.35,465.63 393.18,467.83 393.10,468.50 C393.02,467.83 392.85,465.63 392.62,464.50 C392.39,463.37 392.12,462.53 391.72,461.70 C391.32,460.87 390.83,460.25 390.22,459.50 C389.60,458.75 388.95,458.03 388.02,457.20 C387.08,456.37 385.77,455.37 384.62,454.50 C383.47,453.63 382.17,452.75 381.12,452.00 C380.07,451.25 379.17,450.67 378.32,450.00 C377.47,449.33 376.57,448.65 376.02,448.00 C375.47,447.35 375.08,446.68 375.02,446.10 C374.95,445.52 375.25,445.12 375.62,444.50 C375.98,443.88 376.47,443.15 377.22,442.40 C377.97,441.65 378.98,440.87 380.12,440.00 C381.25,439.13 382.52,438.20 384.02,437.20 C385.52,436.20 387.83,434.90 389.12,434.00 C390.40,433.10 391.20,432.68 391.72,431.80 C392.23,430.92 392.07,430.37 392.22,428.70 C392.37,427.03 392.50,423.70 392.62,421.80 C392.73,419.90 392.82,418.18 392.90,417.30 C392.98,416.42 393.07,416.63 393.10,416.50Z" fill="#f8910f" stroke="#161210" stroke-width="1.15" stroke-linejoin="round"/><line x1="393.1" y1="432.6" x2="393.1" y2="460.1" stroke="#000" stroke-opacity="0.72" stroke-width="1.2"/>
<path d="M442.40,307.30 C442.43,307.42 442.35,306.35 442.60,308.00 C442.85,309.65 443.62,314.40 443.88,317.20 C444.15,320.00 444.17,322.33 444.18,324.80 C444.20,327.27 444.10,329.47 443.98,332.00 C443.87,334.53 443.68,336.13 443.48,340.00 C443.28,343.87 442.93,350.65 442.78,355.20 C442.64,359.75 442.55,363.50 442.60,367.30 C442.65,371.10 442.80,374.70 443.08,378.00 C443.36,381.30 444.05,385.08 444.28,387.10 C444.52,389.12 444.37,388.77 444.48,390.10 C444.60,391.43 444.65,392.57 444.98,395.10 C445.32,397.63 445.87,401.92 446.48,405.30 C447.10,408.68 447.55,412.03 448.68,415.40 C449.82,418.77 452.05,422.98 453.28,425.50 C454.52,428.02 455.20,428.80 456.08,430.50 C456.97,432.20 457.97,434.02 458.58,435.70 C459.20,437.38 459.55,439.30 459.78,440.60 C460.02,441.90 460.22,441.98 459.98,443.50 C459.75,445.02 459.12,447.92 458.38,449.70 C457.65,451.48 456.65,452.68 455.58,454.20 C454.52,455.72 453.12,457.27 451.98,458.80 C450.85,460.33 449.77,461.88 448.78,463.40 C447.80,464.92 446.85,466.38 446.08,467.90 C445.32,469.42 444.68,470.97 444.18,472.50 C443.68,474.03 443.38,474.68 443.08,477.10 C442.79,479.52 442.51,485.35 442.40,487.00 C442.29,485.35 442.01,479.52 441.72,477.10 C441.42,474.68 441.12,474.03 440.62,472.50 C440.12,470.97 439.48,469.42 438.72,467.90 C437.95,466.38 437.00,464.92 436.02,463.40 C435.03,461.88 433.95,460.33 432.82,458.80 C431.68,457.27 430.28,455.72 429.22,454.20 C428.15,452.68 427.15,451.48 426.42,449.70 C425.68,447.92 425.05,445.02 424.82,443.50 C424.58,441.98 424.78,441.90 425.02,440.60 C425.25,439.30 425.60,437.38 426.22,435.70 C426.83,434.02 427.83,432.20 428.72,430.50 C429.60,428.80 430.28,428.02 431.52,425.50 C432.75,422.98 434.98,418.77 436.12,415.40 C437.25,412.03 437.70,408.68 438.32,405.30 C438.93,401.92 439.48,397.63 439.82,395.10 C440.15,392.57 440.20,391.43 440.32,390.10 C440.43,388.77 440.28,389.12 440.52,387.10 C440.75,385.08 441.44,381.30 441.72,378.00 C442.00,374.70 442.15,371.10 442.20,367.30 C442.25,363.50 442.16,359.75 442.02,355.20 C441.87,350.65 441.52,343.87 441.32,340.00 C441.12,336.13 440.93,334.53 440.82,332.00 C440.70,329.47 440.60,327.27 440.62,324.80 C440.63,322.33 440.65,320.00 440.92,317.20 C441.18,314.40 441.95,309.65 442.20,308.00 C442.45,306.35 442.37,307.42 442.40,307.30Z" fill="#38aa32" stroke="#161210" stroke-width="1.15" stroke-linejoin="round"/><line x1="442.4" y1="403.7" x2="442.4" y2="461.5" stroke="#000" stroke-opacity="0.72" stroke-width="1.2"/>
<path d="M491.00,341.10 C491.03,341.22 491.14,341.15 491.20,341.80 C491.26,342.45 491.17,342.75 491.38,345.00 C491.60,347.25 492.18,351.33 492.48,355.30 C492.78,359.27 493.07,364.98 493.18,368.80 C493.30,372.62 493.30,374.82 493.18,378.20 C493.07,381.58 492.57,386.30 492.48,389.10 C492.40,391.90 492.58,393.18 492.68,395.00 C492.78,396.82 492.90,397.98 493.08,400.00 C493.27,402.02 493.38,404.73 493.78,407.10 C494.18,409.47 494.73,411.83 495.48,414.20 C496.23,416.57 497.33,418.93 498.28,421.30 C499.23,423.67 500.33,426.03 501.18,428.40 C502.03,430.77 502.83,433.13 503.38,435.50 C503.93,437.87 504.52,440.25 504.48,442.60 C504.45,444.95 503.98,447.25 503.18,449.60 C502.38,451.95 500.85,454.33 499.68,456.70 C498.52,459.07 497.25,461.43 496.18,463.80 C495.12,466.17 494.03,468.77 493.28,470.90 C492.53,473.03 492.06,474.82 491.68,476.60 C491.30,478.38 491.11,480.77 491.00,481.60 C490.89,480.77 490.70,478.38 490.32,476.60 C489.94,474.82 489.47,473.03 488.72,470.90 C487.97,468.77 486.88,466.17 485.82,463.80 C484.75,461.43 483.48,459.07 482.32,456.70 C481.15,454.33 479.62,451.95 478.82,449.60 C478.02,447.25 477.55,444.95 477.52,442.60 C477.48,440.25 478.07,437.87 478.62,435.50 C479.17,433.13 479.97,430.77 480.82,428.40 C481.67,426.03 482.77,423.67 483.72,421.30 C484.67,418.93 485.77,416.57 486.52,414.20 C487.27,411.83 487.82,409.47 488.22,407.10 C488.62,404.73 488.73,402.02 488.92,400.00 C489.10,397.98 489.22,396.82 489.32,395.00 C489.42,393.18 489.60,391.90 489.52,389.10 C489.43,386.30 488.93,381.58 488.82,378.20 C488.70,374.82 488.70,372.62 488.82,368.80 C488.93,364.98 489.22,359.27 489.52,355.30 C489.82,351.33 490.40,347.25 490.62,345.00 C490.83,342.75 490.74,342.45 490.80,341.80 C490.86,341.15 490.97,341.22 491.00,341.10Z" fill="#cc0a2e" stroke="#161210" stroke-width="1.15" stroke-linejoin="round"/><line x1="491.0" y1="412.5" x2="491.0" y2="455.6" stroke="#000" stroke-opacity="0.72" stroke-width="1.2"/>
<text x="344.6" y="507.6" font-size="9.2" text-anchor="middle" font-weight="normal" >Day 30</text>
<text x="344.6" y="518.4" font-size="9.2" text-anchor="middle" font-weight="normal" >(n = 42)</text>
<text x="393.1" y="507.6" font-size="9.2" text-anchor="middle" font-weight="normal" >Day 100</text>
<text x="393.1" y="518.4" font-size="9.2" text-anchor="middle" font-weight="normal" >(n = 41)</text>
<text x="442.5" y="507.6" font-size="9.2" text-anchor="middle" font-weight="normal" >Day 180</text>
<text x="442.5" y="518.4" font-size="9.2" text-anchor="middle" font-weight="normal" >(n = 39)</text>
<text x="490.9" y="507.6" font-size="9.2" text-anchor="middle" font-weight="normal" >Day 365</text>
<text x="490.9" y="518.4" font-size="9.2" text-anchor="middle" font-weight="normal" >(n = 31)</text>
<rect x="270.5" y="524.3" width="241.3" height="24.300000000000068" fill="#cac9cb"/>
<text x="294.2" y="533.5" font-size="9.4" text-anchor="middle" font-weight="bold" style="fill:#000;stroke:#000;stroke-width:0.28px" >Median</text>
<text x="294.2" y="543.5" font-size="9.4" text-anchor="middle" font-weight="bold" style="fill:#000;stroke:#000;stroke-width:0.28px" >(range)</text>
<text x="344.6" y="533.5" font-size="9.1" text-anchor="middle" font-weight="normal" >31</text>
<text x="344.6" y="543.5" font-size="9.1" text-anchor="middle" font-weight="normal" >(0,815)</text>
<text x="393.1" y="533.5" font-size="9.1" text-anchor="middle" font-weight="normal" >213</text>
<text x="393.1" y="543.5" font-size="9.1" text-anchor="middle" font-weight="normal" >(21,495)</text>
<text x="442.5" y="533.5" font-size="9.1" text-anchor="middle" font-weight="normal" >262</text>
<text x="442.5" y="543.5" font-size="9.1" text-anchor="middle" font-weight="normal" >(12,1682)</text>
<text x="490.9" y="533.5" font-size="9.1" text-anchor="middle" font-weight="normal" >268</text>
<text x="490.9" y="543.5" font-size="9.1" text-anchor="middle" font-weight="normal" >(82,1230)</text>
<rect x="94.5" y="560" width="331.8" height="23.2" fill="#cac9cb"/>
<text x="173.4" y="568.8" font-size="9.1" text-anchor="end" font-weight="bold" style="fill:#000;stroke:#000;stroke-width:0.28px" >Day of collection,</text>
<text x="173.4" y="578.9" font-size="9.1" text-anchor="end" font-weight="bold" style="fill:#000;stroke:#000;stroke-width:0.28px" >median (range)</text>
<text x="203.9" y="568.8" font-size="9.1" text-anchor="middle" font-weight="bold" style="fill:#000;stroke:#000;stroke-width:0.28px" >Day 30</text>
<text x="203.9" y="578.9" font-size="9.1" text-anchor="middle" font-weight="normal" >28 (25-31)</text>
<text x="259.0" y="568.8" font-size="9.1" text-anchor="middle" font-weight="bold" style="fill:#000;stroke:#000;stroke-width:0.28px" >Day 100</text>
<text x="259.0" y="578.9" font-size="9.1" text-anchor="middle" font-weight="normal" >97 (95-104)</text>
<text x="322.4" y="568.8" font-size="9.1" text-anchor="middle" font-weight="bold" style="fill:#000;stroke:#000;stroke-width:0.28px" >Day 180</text>
<text x="322.4" y="578.9" font-size="9.1" text-anchor="middle" font-weight="normal" >181 (173-191)</text>
<text x="391.0" y="568.8" font-size="9.1" text-anchor="middle" font-weight="bold" style="fill:#000;stroke:#000;stroke-width:0.28px" >Day 365</text>
<text x="391.0" y="578.9" font-size="9.1" text-anchor="middle" font-weight="normal" >363 (355-386)</text>
<rect x="0.5" y="0.5" width="519" height="591" fill="none" stroke="#616161" stroke-width="1"/>
</svg>
</body></html>
